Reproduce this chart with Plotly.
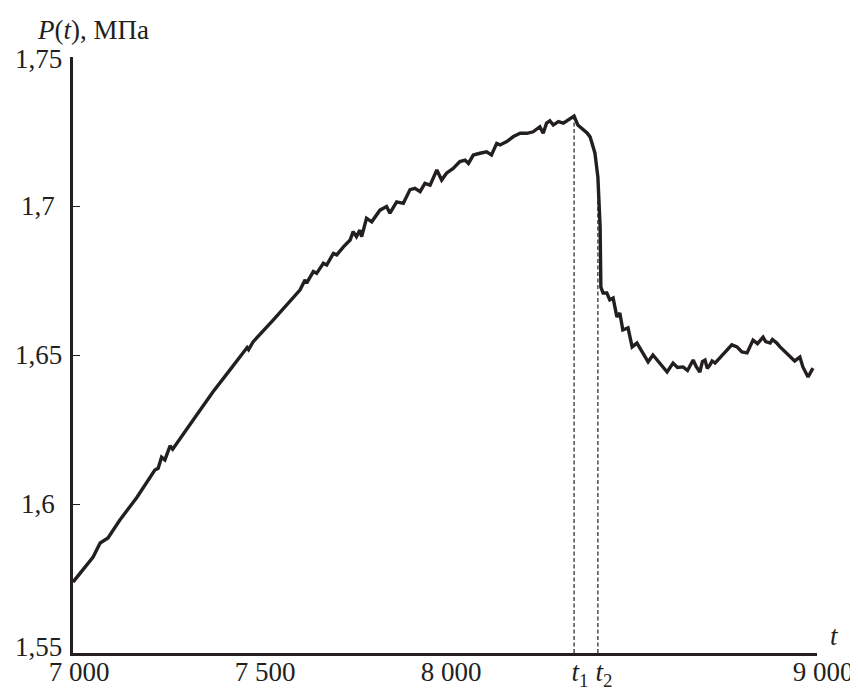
import plotly.graph_objects as go
import numpy as np

# ---- data ----
t_values = [
    7000, 7027, 7054, 7073, 7094, 7126, 7172, 7220, 7229, 7238, 7247, 7261, 7268,
    7323, 7376, 7422, 7457, 7468, 7472, 7484, 7538, 7610, 7624, 7628, 7646, 7655,
    7673, 7682, 7700, 7709, 7727, 7745, 7753, 7762, 7771, 7776, 7789, 7803, 7825,
    7843, 7852, 7870, 7888, 7906, 7919, 7933, 7946, 7960, 7978, 7991, 8004, 8022,
    8040, 8054, 8063, 8076, 8094, 8112, 8125, 8139, 8148, 8166, 8184, 8202, 8220,
    8237, 8255, 8264, 8273, 8282, 8291, 8305, 8318, 8347,
    8357, 8382, 8390, 8403, 8411, 8417, 8419, 8425, 8435, 8443, 8452, 8462, 8470,
    8478, 8492, 8503, 8516, 8546, 8559, 8578, 8597, 8613, 8625, 8640, 8652, 8667,
    8675, 8685, 8692, 8699, 8705, 8712, 8718, 8726, 8758, 8771, 8785, 8798, 8812,
    8828, 8840, 8855, 8862, 8874, 8880, 8892, 8900, 8909, 8918, 8927, 8940, 8954,
    8962, 8976, 8989,
]
p_values = [
    1.5738, 1.5779, 1.5822, 1.5869, 1.5886, 1.5946, 1.6023, 1.6114, 1.6120, 1.6157,
    1.6148, 1.6195, 1.6184, 1.6282, 1.6376, 1.6450, 1.6507, 1.6525, 1.6518, 1.6544,
    1.6617, 1.6718, 1.6752, 1.6741, 1.6780, 1.6774, 1.6808, 1.6802, 1.6841, 1.6836,
    1.6863, 1.6886, 1.6914, 1.6897, 1.6919, 1.6897, 1.6959, 1.6947, 1.6986, 1.6998,
    1.6976, 1.7014, 1.7009, 1.7055, 1.7059, 1.7048, 1.7076, 1.7070, 1.7121, 1.7087,
    1.7110, 1.7126, 1.7149, 1.7154, 1.7143, 1.7171, 1.7177, 1.7182, 1.7171, 1.7210,
    1.7205, 1.7216, 1.7233, 1.7244, 1.7244, 1.7249, 1.7266, 1.7244, 1.7278, 1.7286,
    1.7272, 1.7283, 1.7278, 1.7302,
    1.7272, 1.7245, 1.7232, 1.7178, 1.7097, 1.6930, 1.6728, 1.6708, 1.6708, 1.6685,
    1.6691, 1.6628, 1.6641, 1.6584, 1.6591, 1.6527, 1.6540, 1.6477, 1.6500, 1.6473,
    1.6443, 1.6473, 1.6458, 1.6460, 1.6448, 1.6483, 1.6462, 1.6443, 1.6478, 1.6483,
    1.6455, 1.6466, 1.6480, 1.6473, 1.6517, 1.6534, 1.6527, 1.6510, 1.6507, 1.6550,
    1.6538, 1.6560, 1.6545, 1.6540, 1.6552, 1.6540, 1.6528, 1.6517, 1.6503, 1.6493,
    1.6480, 1.6493, 1.6460, 1.6426, 1.6456,
]
t_marks = [8347, 8411]
t_mark_labels = ["<i>t</i><sub>1</sub>", "<i>t</i><sub>2</sub>"]
x_tickvals = [7000, 7500, 8000, 9000]
x_ticktext = ["7 000", "7 500", "8 000", "9 000"]
y_tickvals = [1.55, 1.6, 1.65, 1.7, 1.75]
y_ticktext = ["1,55", "1,6", "1,65", "1,7", "1,75"]

INK = "#231f20"
FONT = "'Liberation Serif', 'Times New Roman', Times, serif"

fig = go.Figure()
fig.add_trace(go.Scatter(x=t_values, y=p_values, mode="lines",
                         line=dict(color=INK, width=3.4), showlegend=False,
                         hoverinfo="skip"))

for tm in t_marks:
    ytop = float(np.interp(tm, t_values, p_values))
    fig.add_shape(type="line", xref="x", yref="y", x0=tm, x1=tm, y0=1.55, y1=ytop,
                  line=dict(color=INK, width=1.2, dash="4px,2.5px"), layer="below")

# y tick labels are centred in the reference, so they are drawn as annotations
y_shift = {1.55: 6, 1.75: -2}
annotations = [
    dict(text=txt, xref="paper", yref="y", x=(38 - 73) / 744, y=val,
         xanchor="center", yanchor="middle", yshift=y_shift.get(val, 0),
         showarrow=False, font=dict(family=FONT, size=27, color=INK))
    for val, txt in zip(y_tickvals, y_ticktext)
]
annotations += [
    dict(text="<i>P</i>(<i>t</i>), МПа", xref="paper", yref="paper",
         x=(35 - 73) / 744, y=1 + (57 - 30) / 596, xanchor="left", yanchor="middle",
         showarrow=False, font=dict(family=FONT, size=27, color=INK)),
    dict(text="<i>t</i>", xref="paper", yref="paper",
         x=(834 - 73) / 744, y=(653 - 636) / 596, xanchor="center", yanchor="middle",
         showarrow=False, font=dict(family=FONT, size=27, color=INK)),
]

# page body has an 8px default margin; figure sized so it fits the 858x688 window
fig.update_layout(
    template="none",
    width=850, height=680,
    margin=dict(l=65, r=41, t=49, b=35, autoexpand=False),
    paper_bgcolor="white", plot_bgcolor="white",
    separators=", ",
    font=dict(family=FONT, size=27, color=INK),
    xaxis=dict(range=[7000, 9000], showgrid=False, zeroline=False, automargin=False,
               showline=True, linecolor=INK, linewidth=3,
               tickvals=x_tickvals + t_marks, ticktext=x_ticktext + t_mark_labels,
               ticks="", ticklabelshift=6, ticklabelstandoff=-7,
               tickfont=dict(family=FONT, size=27, color=INK)),
    yaxis=dict(range=[1.55, 1.75], showgrid=False, zeroline=False, automargin=False,
               showline=True, linecolor=INK, linewidth=3,
               tickvals=y_tickvals, showticklabels=False,
               ticks="inside", ticklen=7, tickwidth=1.2, tickcolor=INK),
    annotations=annotations,
)

fig.write_html("out.html")
